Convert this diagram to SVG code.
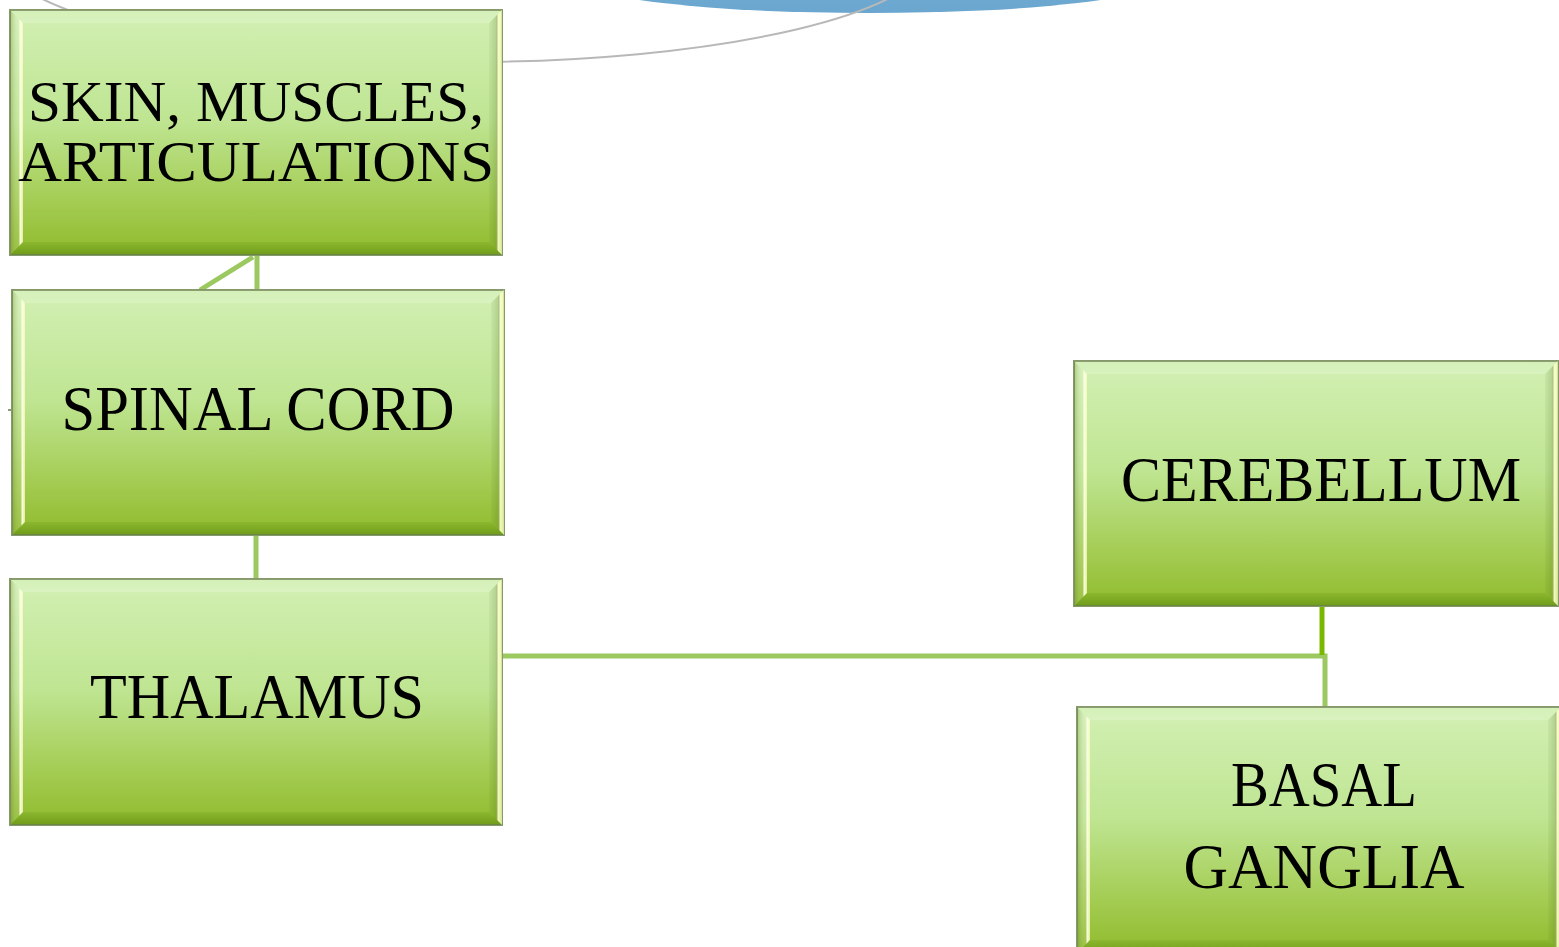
<svg xmlns="http://www.w3.org/2000/svg" width="1559" height="947" viewBox="0 0 1559 947">
<defs>
<linearGradient id="face" x1="0" y1="0" x2="0" y2="1">
<stop offset="0" stop-color="#d2f0b4"/>
<stop offset="0.45" stop-color="#bfe592"/>
<stop offset="0.8" stop-color="#a2cb50"/>
<stop offset="1" stop-color="#8fbb2c"/>
</linearGradient>
<linearGradient id="leftB" x1="0" y1="0" x2="1" y2="0">
<stop offset="0" stop-color="#5a7a20" stop-opacity="0.35"/>
<stop offset="0.65" stop-color="#ffffff" stop-opacity="0.1"/>
<stop offset="0.8" stop-color="#ffffe0" stop-opacity="0.95"/>
<stop offset="1" stop-color="#ffffc8" stop-opacity="0.7"/>
</linearGradient>
<linearGradient id="rightB" x1="0" y1="0" x2="1" y2="0">
<stop offset="0" stop-color="#3c5a10" stop-opacity="0.05"/>
<stop offset="0.5" stop-color="#3c5a10" stop-opacity="0.18"/>
<stop offset="0.7" stop-color="#ffffd0" stop-opacity="0.9"/>
<stop offset="1" stop-color="#f4ffb0" stop-opacity="0.7"/>
</linearGradient>
<linearGradient id="topB" x1="0" y1="0" x2="0" y2="1">
<stop offset="0" stop-color="#ffffff" stop-opacity="0.05"/>
<stop offset="1" stop-color="#ffffff" stop-opacity="0.2"/>
</linearGradient>
<linearGradient id="botB" x1="0" y1="0" x2="0" y2="1">
<stop offset="0" stop-color="#4a7a00" stop-opacity="0.12"/>
<stop offset="1" stop-color="#3e6a00" stop-opacity="0.4"/>
</linearGradient>
<linearGradient id="blue" x1="0" y1="0" x2="0" y2="1">
<stop offset="0" stop-color="#78b0d6"/>
<stop offset="1" stop-color="#6aa6cf"/>
</linearGradient>
</defs>
<style>
.face{fill:url(#face);stroke:#86996a;stroke-width:2}
.tb{fill:url(#topB)}
.lb{fill:url(#leftB)}
.rb{fill:url(#rightB)}
.bb{fill:url(#botB)}
.lbl{font-family:"Liberation Serif","Times New Roman",serif;font-size:64px;fill:#000;text-anchor:middle}
.sm{font-size:56px}
.con{fill:none;stroke:#9cc860;stroke-width:5}
</style>
<rect width="1559" height="947" fill="#ffffff"/>
<g id="background">
<ellipse cx="870" cy="-20" rx="290" ry="33" fill="url(#blue)"/>
<ellipse cx="465" cy="-50" rx="470" ry="112" fill="none" stroke="#b8b8b8" stroke-width="2"/>
</g>
<g id="connectors">
<line class="con" x1="257" y1="255" x2="257" y2="291"/>
<line class="con" x1="253" y1="257" x2="200" y2="290"/>
<line class="con" x1="256" y1="535" x2="256" y2="580"/>
<polyline class="con" points="502,656 1325,656 1325,708"/>
<line x1="1322" y1="606" x2="1322" y2="655" stroke="#7ab800" stroke-width="5"/>
<line x1="8" y1="410" x2="38" y2="410" stroke="#8a9a7a" stroke-width="2" stroke-dasharray="4 3"/>
</g>
<g id="skin" transform="translate(10,10)">
<rect class="face" x="0" y="0" width="492" height="245"/>
<polygon class="tb" points="0,0 492,0 479,13 13,13"/>
<polygon class="lb" points="0,0 13,13 13,232 0,245"/>
<polygon class="rb" points="492,0 492,245 479,232 479,13"/>
<polygon class="bb" points="0,245 13,232 479,232 492,245"/>
<text class="lbl sm" x="246" y="111" textLength="456" lengthAdjust="spacingAndGlyphs">SKIN, MUSCLES,</text>
<text class="lbl sm" x="246" y="171" textLength="476" lengthAdjust="spacingAndGlyphs">ARTICULATIONS</text>
</g>
<g id="spinal" transform="translate(12,290)">
<rect class="face" x="0" y="0" width="492" height="245"/>
<polygon class="tb" points="0,0 492,0 479,13 13,13"/>
<polygon class="lb" points="0,0 13,13 13,232 0,245"/>
<polygon class="rb" points="492,0 492,245 479,232 479,13"/>
<polygon class="bb" points="0,245 13,232 479,232 492,245"/>
<text class="lbl" x="246" y="140" textLength="393" lengthAdjust="spacingAndGlyphs">SPINAL CORD</text>
</g>
<g id="thalamus" transform="translate(10,579)">
<rect class="face" x="0" y="0" width="492" height="246"/>
<polygon class="tb" points="0,0 492,0 479,13 13,13"/>
<polygon class="lb" points="0,0 13,13 13,233 0,246"/>
<polygon class="rb" points="492,0 492,246 479,233 479,13"/>
<polygon class="bb" points="0,246 13,233 479,233 492,246"/>
<text class="lbl" x="247" y="139" textLength="334" lengthAdjust="spacingAndGlyphs">THALAMUS</text>
</g>
<g id="cerebellum" transform="translate(1074,361)">
<rect class="face" x="0" y="0" width="484" height="245"/>
<polygon class="tb" points="0,0 484,0 471,13 13,13"/>
<polygon class="lb" points="0,0 13,13 13,232 0,245"/>
<polygon class="rb" points="484,0 484,245 471,232 471,13"/>
<polygon class="bb" points="0,245 13,232 471,232 484,245"/>
<text class="lbl" x="247" y="140" textLength="400" lengthAdjust="spacingAndGlyphs">CEREBELLUM</text>
</g>
<g id="basal" transform="translate(1077,707)">
<rect class="face" x="0" y="0" width="484" height="246"/>
<polygon class="tb" points="0,0 484,0 471,13 13,13"/>
<polygon class="lb" points="0,0 13,13 13,233 0,246"/>
<polygon class="rb" points="484,0 484,246 471,233 471,13"/>
<polygon class="bb" points="0,246 13,233 471,233 484,246"/>
<text class="lbl" x="247" y="99" textLength="186" lengthAdjust="spacingAndGlyphs">BASAL</text>
<text class="lbl" x="247" y="181" textLength="281" lengthAdjust="spacingAndGlyphs">GANGLIA</text>
</g>
</svg>
